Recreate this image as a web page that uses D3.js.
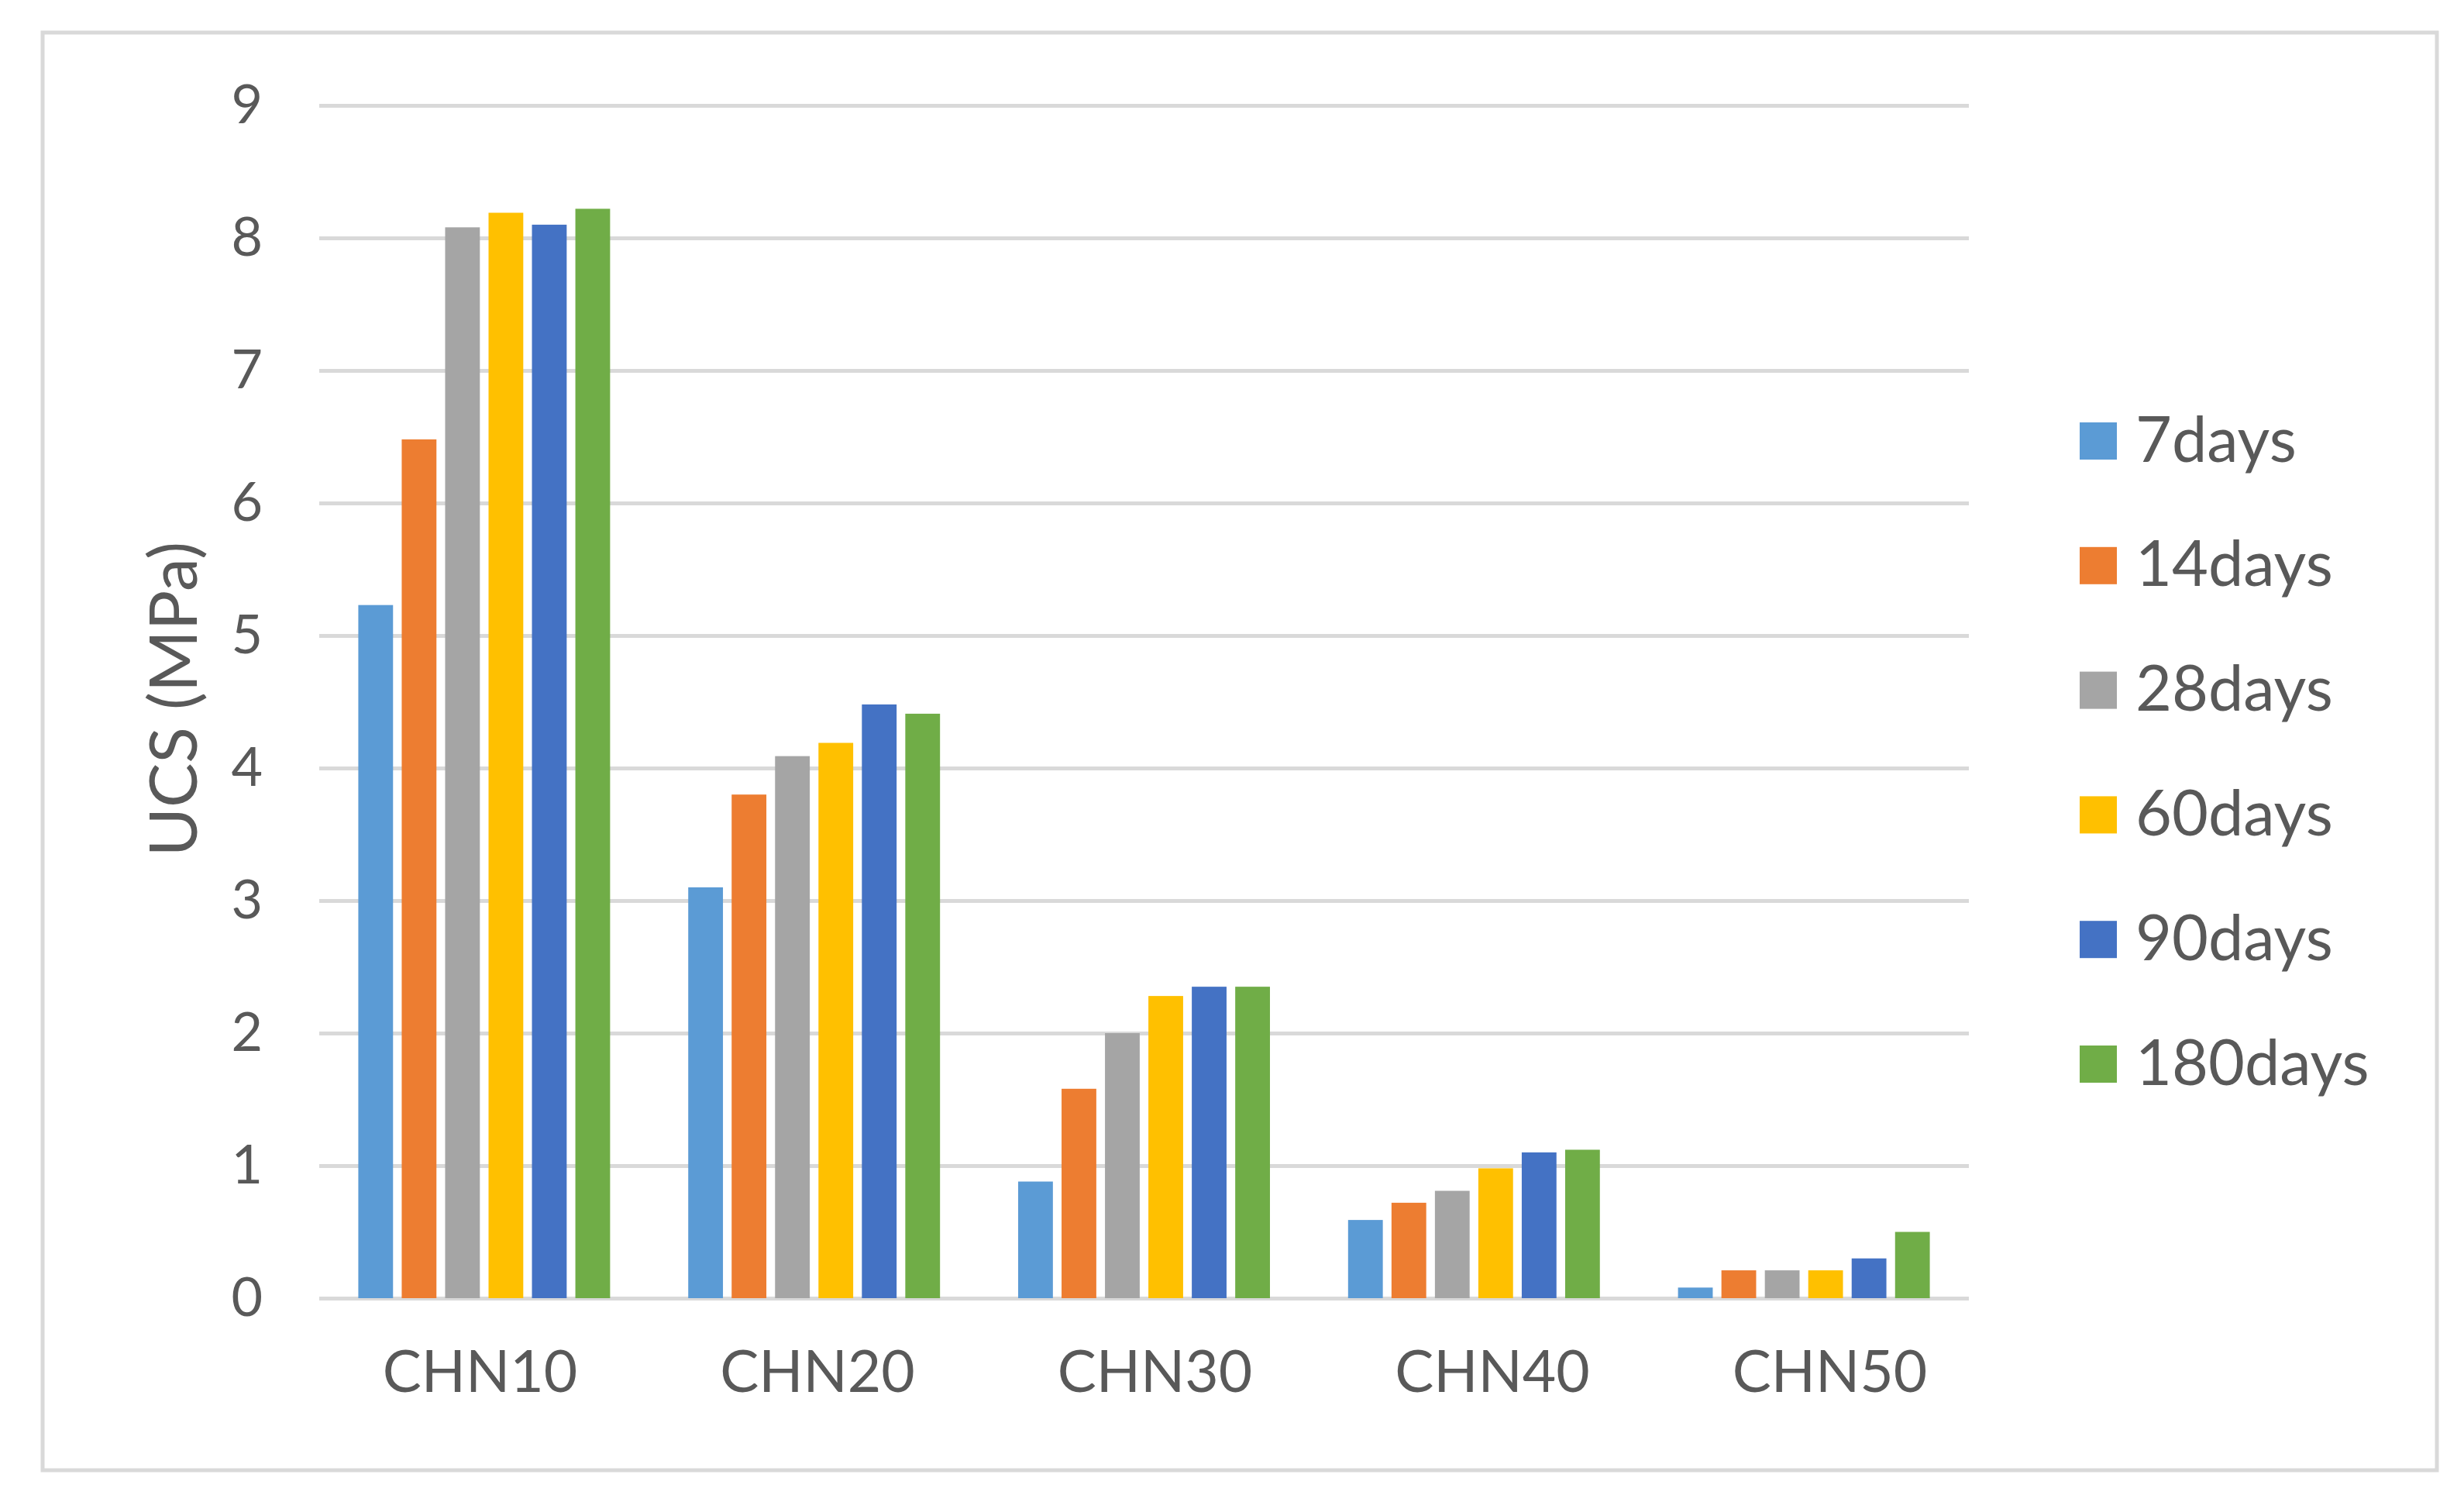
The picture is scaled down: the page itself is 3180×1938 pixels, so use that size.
<!DOCTYPE html>
<html>
<head>
<meta charset="utf-8">
<script src="https://cdn.jsdelivr.net/npm/d3@7"></script>
<style>
  html, body { margin: 0; padding: 0; background: #ffffff; }
  svg { display: block; }
  text { font-family: Lato, "Open Sans", sans-serif; fill: #595959; }
</style>
</head>
<body>
<svg id="chart" width="3180" height="1938"></svg>
<script>
const categories = ["CHN10", "CHN20", "CHN30", "CHN40", "CHN50"];
const seriesNames = ["7days", "14days", "28days", "60days", "90days", "180days"];
const seriesColors = ["#5B9BD5", "#ED7D31", "#A5A5A5", "#FFC000", "#4472C4", "#70AD47"];
const values7 = [5.23, 3.10, 0.88, 0.59, 0.08];
const values14 = [6.48, 3.80, 1.58, 0.72, 0.21];
const values28 = [8.08, 4.09, 2.00, 0.81, 0.21];
const values60 = [8.19, 4.19, 2.28, 0.98, 0.21];
const values90 = [8.10, 4.48, 2.35, 1.10, 0.30];
const values180 = [8.22, 4.41, 2.35, 1.12, 0.50];
const yTicks = [0, 1, 2, 3, 4, 5, 6, 7, 8, 9];
const yTitle = "UCS (MPa)";

const seriesValues = [values7, values14, values28, values60, values90, values180];

const svg = d3.select("#chart");

// outer frame
svg.append("rect")
  .attr("x", 55).attr("y", 42)
  .attr("width", 3090).attr("height", 1855)
  .attr("fill", "#ffffff")
  .attr("stroke", "#d9d9d9").attr("stroke-width", 5);

const plot = { left: 412, right: 2541, top: 136, bottom: 1675 };

const y = d3.scaleLinear().domain([0, 9]).range([plot.bottom, plot.top]);
const x0 = d3.scaleBand().domain(categories).range([plot.left, plot.right]).padding(0);
const x1 = d3.scaleBand().domain(seriesNames).range([0, x0.bandwidth()])
  .paddingInner(0.2).paddingOuter(0.9);

// gridlines + y tick labels
const yAxis = d3.axisLeft(y).tickValues(yTicks).tickSize(-(plot.right - plot.left)).tickPadding(73).tickFormat(d3.format("d"));
const gy = svg.append("g").attr("transform", `translate(${plot.left},0)`).call(yAxis);
gy.select(".domain").remove();
gy.selectAll(".tick line").attr("stroke", "#d9d9d9").attr("stroke-width", 5);
gy.selectAll(".tick text").attr("font-size", 70).attr("fill", "#595959");

// bars
const groups = svg.append("g").selectAll("g")
  .data(categories)
  .join("g")
  .attr("transform", d => `translate(${x0(d)},0)`);

groups.selectAll("rect")
  .data((c, ci) => seriesNames.map((s, si) => ({ s, si, v: seriesValues[si][ci] })))
  .join("rect")
  .attr("x", d => x1(d.s))
  .attr("width", x1.bandwidth())
  .attr("y", d => y(d.v))
  .attr("height", d => y(0) - y(d.v))
  .attr("fill", d => seriesColors[d.si]);

// x category labels (slightly wider spacing than bar groups, as in the reference)
const xLabel = d3.scalePoint().domain(categories).range([619, 2361]);
const xAxis = d3.axisBottom(xLabel).tickSize(0).tickPadding(68);
const gx = svg.append("g").attr("transform", `translate(0,${plot.bottom})`).call(xAxis);
gx.select(".domain").remove();
gx.selectAll(".tick text").attr("font-size", 75).attr("fill", "#595959");

// y title
svg.append("text")
  .attr("transform", `translate(220,902) rotate(-90)`)
  .attr("text-anchor", "middle")
  .attr("dominant-baseline", "central")
  .attr("font-size", 86)
  .text(yTitle);

// legend
const legendY = d3.scalePoint().domain(seriesNames).range([569, 1373]);
const legend = svg.append("g").selectAll("g")
  .data(seriesNames)
  .join("g")
  .attr("transform", d => `translate(2684,${legendY(d)})`);
legend.append("rect")
  .attr("x", 0).attr("y", -24).attr("width", 48).attr("height", 48)
  .attr("fill", (d, i) => seriesColors[i]);
legend.append("text")
  .attr("x", 72).attr("y", -5)
  .attr("dominant-baseline", "central")
  .attr("font-size", 81)
  .text(d => d);
</script>
</body>
</html>
